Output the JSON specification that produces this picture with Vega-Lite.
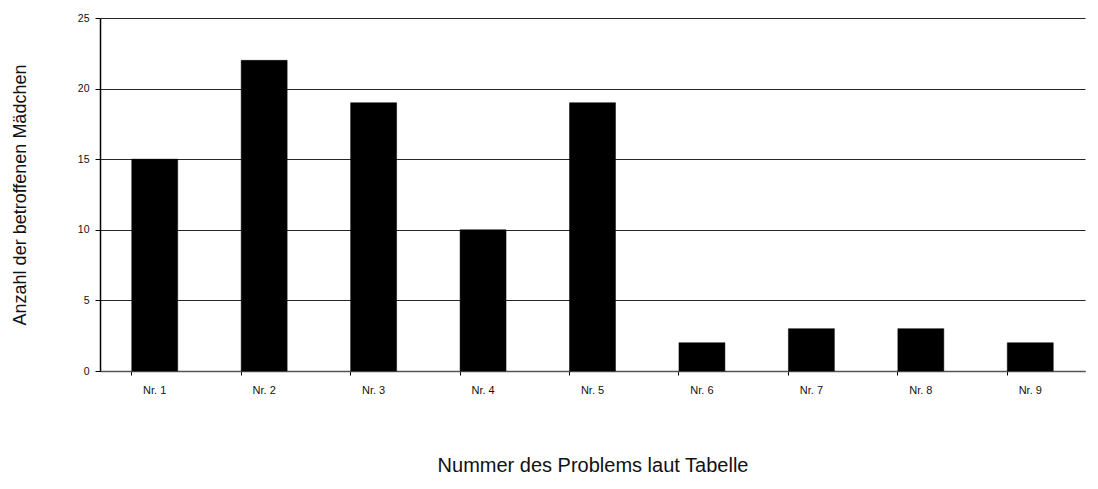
{
  "$schema": "https://vega.github.io/schema/vega-lite/v6.json",
  "autosize": "none",
  "padding": {"left": 100, "top": 18, "right": 13, "bottom": 118},
  "width": 985,
  "height": 353,
  "background": "white",
  "config": {
    "view": {"stroke": null},
    "font": "Liberation Sans"
  },
  "data": {
    "values": [
      {"Problem": "Nr. 1", "Anzahl": 15},
      {"Problem": "Nr. 2", "Anzahl": 22},
      {"Problem": "Nr. 3", "Anzahl": 19},
      {"Problem": "Nr. 4", "Anzahl": 10},
      {"Problem": "Nr. 5", "Anzahl": 19},
      {"Problem": "Nr. 6", "Anzahl": 2},
      {"Problem": "Nr. 7", "Anzahl": 3},
      {"Problem": "Nr. 8", "Anzahl": 3},
      {"Problem": "Nr. 9", "Anzahl": 2}
    ]
  },
  "mark": {"type": "bar", "color": "#000000", "stroke": "#000000", "strokeWidth": 0.5},
  "encoding": {
    "x": {
      "field": "Problem",
      "type": "nominal",
      "sort": null,
      "scale": {"paddingInner": 0.58, "paddingOuter": 0.29},
      "axis": {
        "title": "Nummer des Problems laut Tabelle",
        "titleFont": "Liberation Sans",
        "titleFontSize": 20,
        "titleFontWeight": "normal",
        "titleColor": "#111111",
        "titlePadding": 60,
        "labelAngle": 0,
        "labelFontSize": 11,
        "labelColor": "#111111",
        "labelPadding": 9,
        "domainColor": "#555555",
        "domainWidth": 1.5,
        "tickColor": "#000000",
        "tickSize": 4,
        "bandPosition": 0,
        "grid": false
      }
    },
    "y": {
      "field": "Anzahl",
      "type": "quantitative",
      "scale": {"domain": [0, 25], "nice": false},
      "axis": {
        "title": "Anzahl der betroffenen Mädchen",
        "titleFont": "Liberation Sans",
        "titleFontSize": 18,
        "titleFontWeight": "normal",
        "titleColor": "#111111",
        "titlePadding": 48,
        "values": [0, 5, 10, 15, 20, 25],
        "labelFontSize": 10.5,
        "labelColor": "#111111",
        "labelPadding": 6,
        "domainColor": "#000000",
        "domainWidth": 1.5,
        "tickColor": "#000000",
        "tickSize": 5,
        "grid": true,
        "gridColor": "#000000",
        "gridWidth": 1,
        "gridOpacity": 0.85
      }
    }
  }
}
